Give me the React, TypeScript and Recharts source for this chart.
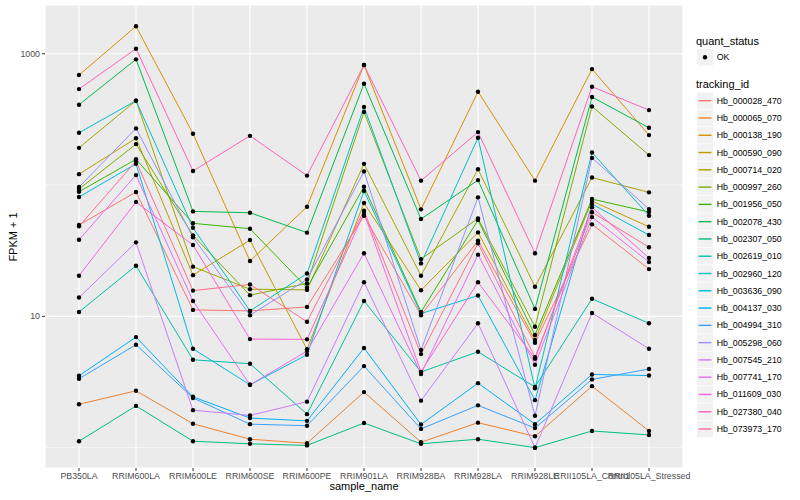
import { LineChart, Line, XAxis, YAxis, CartesianGrid, ReferenceLine } from "recharts";

const samples = [
  "PB350LA", "RRIM600LA", "RRIM600LE", "RRIM600SE", "RRIM600PE", "RRIM901LA",
  "RRIM928BA", "RRIM928LA", "RRIM928LE", "RRII105LA_Control", "RRII105LA_Stressed",
];

// FPKM + 1 per gene, one value per sample (same order as samples)
const hb000028_470 = [49.6, 88.5, 11.2, 11.0, 11.8, 58.4, 10.2, 37.7, 6.3, 50.2, 22.9];
const hb000065_070 = [2.14, 2.71, 1.52, 1.16, 1.08, 2.65, 1.1, 1.55, 1.22, 2.94, 1.34];
const hb000138_190 = [688, 1618, 246, 26.4, 68.4, 820, 65.3, 514, 108, 764, 240];
const hb000590_090 = [121, 227, 20.6, 38.1, 5.61, 72.9, 15.8, 43.6, 6.6, 75.5, 48.1];
const hb000714_020 = [192, 439, 23.9, 16.1, 15.9, 145, 20.4, 132, 16.8, 114, 88];
const hb000997_260 = [93.2, 205, 41.4, 14.5, 17.8, 360, 27.3, 55.7, 8.34, 397, 169];
const hb001956_050 = [88.9, 157, 51.1, 46.5, 16.5, 97.1, 10.8, 54.1, 7.21, 78.2, 62.3];
const hb002078_430 = [409, 906, 63, 61.5, 43.4, 591, 55.1, 109, 11.4, 468, 273];
const hb002307_050 = [1.12, 2.08, 1.12, 1.07, 1.04, 1.54, 1.07, 1.16, 1.0, 1.34, 1.25];
const hb002619_010 = [10.8, 24.3, 4.67, 4.36, 1.8, 13.1, 3.77, 5.37, 2.9, 13.6, 8.85];
const hb002960_120 = [250, 439, 47.3, 11.0, 21.2, 393, 25.3, 229, 2.83, 177, 58.4];
const hb003636_090 = [81.1, 145, 5.66, 3.01, 5.1, 90, 10.5, 14.4, 2.3, 71.6, 41.6];
const hb004137_030 = [3.53, 6.95, 2.44, 1.68, 1.6, 5.74, 1.5, 3.1, 1.51, 3.61, 3.54];
const hb004994_310 = [3.35, 6.08, 2.39, 1.51, 1.47, 4.18, 1.39, 2.1, 1.41, 3.31, 3.97];
const hb005298_060 = [96.5, 270, 40, 10.2, 19.1, 127, 5.54, 80.6, 1.75, 161, 65.6];
const hb007545_210 = [13.9, 36.6, 1.93, 1.76, 2.24, 18.2, 2.28, 8.85, 1.0, 10.6, 5.66];
const hb007741_170 = [38.3, 119, 13.1, 3.01, 5.44, 30.2, 3.64, 29.5, 4.28, 57, 25.9];
const hb011609_030 = [20.4, 74.2, 34.9, 6.71, 6.68, 61.2, 3.78, 18.2, 4.75, 67.6, 27.8];
const hb027380_040 = [538, 1092, 128, 237, 118, 820, 108, 253, 30.2, 561, 372];
const hb073973_170 = [48.5, 152, 15.7, 17.5, 9.1, 63.7, 5.16, 36, 4.88, 62, 33.6];

const series = [
  { id: "Hb_000028_470", color: "#F8766D", values: hb000028_470 },
  { id: "Hb_000065_070", color: "#EA8331", values: hb000065_070 },
  { id: "Hb_000138_190", color: "#D89000", values: hb000138_190 },
  { id: "Hb_000590_090", color: "#C09B00", values: hb000590_090 },
  { id: "Hb_000714_020", color: "#A3A500", values: hb000714_020 },
  { id: "Hb_000997_260", color: "#7CAE00", values: hb000997_260 },
  { id: "Hb_001956_050", color: "#39B600", values: hb001956_050 },
  { id: "Hb_002078_430", color: "#00BB4E", values: hb002078_430 },
  { id: "Hb_002307_050", color: "#00BF7D", values: hb002307_050 },
  { id: "Hb_002619_010", color: "#00C1A3", values: hb002619_010 },
  { id: "Hb_002960_120", color: "#00BFC4", values: hb002960_120 },
  { id: "Hb_003636_090", color: "#00BAE0", values: hb003636_090 },
  { id: "Hb_004137_030", color: "#00B0F6", values: hb004137_030 },
  { id: "Hb_004994_310", color: "#35A2FF", values: hb004994_310 },
  { id: "Hb_005298_060", color: "#9590FF", values: hb005298_060 },
  { id: "Hb_007545_210", color: "#C77CFF", values: hb007545_210 },
  { id: "Hb_007741_170", color: "#E76BF3", values: hb007741_170 },
  { id: "Hb_011609_030", color: "#FA62DB", values: hb011609_030 },
  { id: "Hb_027380_040", color: "#FF62BC", values: hb027380_040 },
  { id: "Hb_073973_170", color: "#FF6C91", values: hb073973_170 },
];

const yTicks = [10, 1000];
const yMinor = [1, 100];

const rows = samples.map((s, i) => {
  const row: Record<string, any> = { sample: s };
  series.forEach((g) => (row[g.id] = g.values[i]));
  return row;
});

const FONT = '"Liberation Sans", Arial, Helvetica, sans-serif';
const tickStyle = { fontSize: 8.8, fill: "#4D4D4D", fontFamily: FONT };

const Legend = () => (
  <svg width={115} height={460} style={{ position: "absolute", left: 685, top: 0 }}>
    <text x={11} y={41} fontSize={11} fontFamily={FONT} dominantBaseline="central">quant_status</text>
    <rect x={12} y={49} width={16} height={16.6} fill="#F2F2F2" />
    <circle cx={20} cy={57.3} r={2.2} fill="#000" />
    <text x={31.7} y={57.3} fontSize={8.8} fontFamily={FONT} dominantBaseline="central">OK</text>
    <text x={11} y={84} fontSize={11} fontFamily={FONT} dominantBaseline="central">tracking_id</text>
    {series.map((g, i) => {
      const cy = 100.7 + i * 17.28;
      return (
        <g key={g.id}>
          <rect x={12} y={cy - 8.3} width={16} height={16.6} fill="#F2F2F2" />
          <line x1={13.5} x2={26.5} y1={cy} y2={cy} stroke={g.color} strokeWidth={1.4} />
          <text x={31.7} y={cy} fontSize={8.8} fontFamily={FONT} dominantBaseline="central">{g.id}</text>
        </g>
      );
    })}
  </svg>
);

export default function App() {
  return (
    <div style={{ position: "absolute", left: 0, top: 0, width: 800, height: 500, background: "#fff", fontFamily: FONT }}>
      <LineChart width={800} height={500} data={rows} margin={{ top: 5, right: 117, left: 0, bottom: 0 }}>
        <CartesianGrid fill="#EBEBEB" stroke="#fff" strokeWidth={1.1} />
        {yMinor.map((v) => (
          <ReferenceLine key={v} y={v} stroke="#fff" strokeWidth={0.55} />
        ))}
        <XAxis
          dataKey="sample"
          type="category"
          scale="point"
          interval={0}
          padding={{ left: 34, right: 34 }}
          height={32}
          axisLine={false}
          tickSize={3}
          tickMargin={2}
          tickLine={{ stroke: "#333" }}
          tick={tickStyle}
        />
        <YAxis
          scale="log"
          domain={[0.7, 2350]}
          allowDataOverflow
          ticks={yTicks}
          width={45}
          axisLine={false}
          tickSize={3}
          tickMargin={2}
          tickLine={{ stroke: "#333" }}
          tick={tickStyle}
        />
        {series.map((g) => (
          <Line key={g.id} dataKey={g.id} stroke={g.color} strokeWidth={1} dot={false} isAnimationActive={false} />
        ))}
        {series.map((g) => (
          <Line
            key={g.id + "_pt"}
            dataKey={g.id}
            stroke="none"
            legendType="none"
            dot={{ r: 2.2, fill: "#000", stroke: "none" }}
            activeDot={false}
            isAnimationActive={false}
          />
        ))}
      </LineChart>
      <div style={{ position: "absolute", left: 0, width: 728, top: 480, textAlign: "center", paddingLeft: 0, fontSize: 11 }}>
        <span style={{ position: "absolute", left: 364, transform: "translateX(-50%)", whiteSpace: "nowrap" }}>sample_name</span>
      </div>
      <div
        style={{
          position: "absolute",
          left: 13,
          top: 236.5,
          fontSize: 11,
          whiteSpace: "nowrap",
          transform: "translate(-50%, -50%) rotate(-90deg)",
        }}
      >
        FPKM + 1
      </div>
      <Legend />
    </div>
  );
}
